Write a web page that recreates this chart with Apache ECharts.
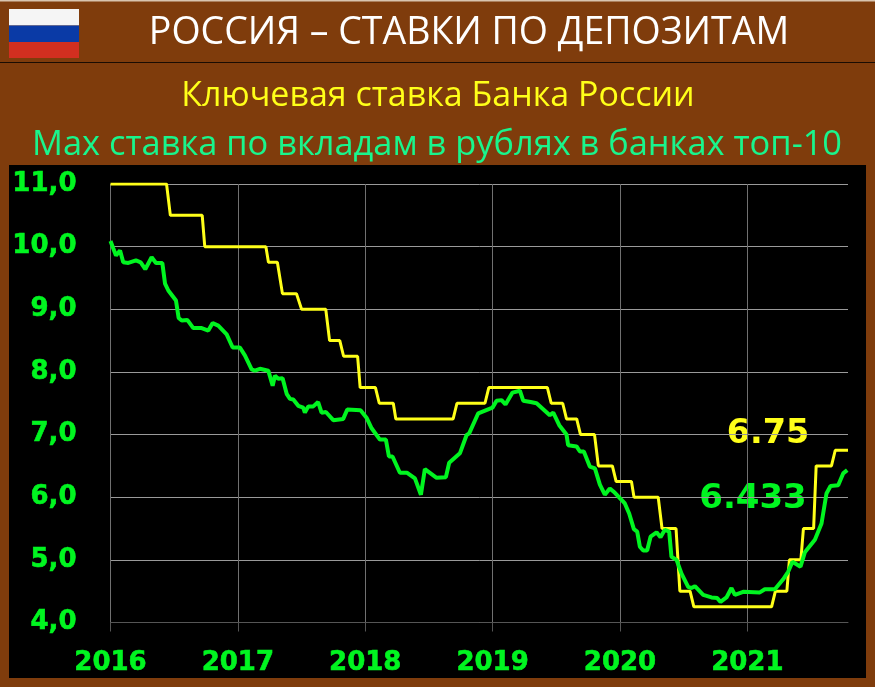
<!DOCTYPE html>
<html><head><meta charset="utf-8">
<style>html,body{margin:0;padding:0;background:#7f3c0c}#c{width:875px;height:687px}</style>
<script src="https://cdn.jsdelivr.net/npm/echarts@6/dist/echarts.min.js"></script>
</head><body><div id="c"></div>
<script>
const yearTicks = [2016, 2017, 2018, 2019, 2020, 2021];
const keyRateDates = [2016.00,2016.44,2016.47,2016.72,2016.74,2017.22,2017.24,2017.31,2017.35,2017.46,2017.50,2017.69,2017.72,2017.80,2017.83,2017.94,2017.96,2018.08,2018.11,2018.22,2018.24,2018.69,2018.72,2018.94,2018.97,2019.43,2019.46,2019.55,2019.58,2019.66,2019.69,2019.80,2019.83,2019.94,2019.97,2020.09,2020.11,2020.30,2020.33,2020.44,2020.47,2020.55,2020.58,2021.19,2021.22,2021.31,2021.33,2021.42,2021.44,2021.52,2021.54,2021.66,2021.69,2021.79];
const keyRateValues = [11,11,10.5,10.5,10,10,9.75,9.75,9.25,9.25,9,9,8.5,8.5,8.25,8.25,7.75,7.75,7.5,7.5,7.25,7.25,7.5,7.5,7.75,7.75,7.5,7.5,7.25,7.25,7,7,6.5,6.5,6.25,6.25,6,6,5.5,5.5,4.5,4.5,4.25,4.25,4.5,4.5,5,5,5.5,5.5,6.5,6.5,6.75,6.75];
const depositDates = [2016.000,2016.022,2016.043,2016.075,2016.100,2016.140,2016.200,2016.237,2016.273,2016.323,2016.357,2016.407,2016.428,2016.454,2016.514,2016.535,2016.559,2016.603,2016.650,2016.716,2016.768,2016.802,2016.846,2016.912,2016.959,2017.016,2017.056,2017.108,2017.134,2017.173,2017.239,2017.273,2017.291,2017.317,2017.351,2017.383,2017.409,2017.435,2017.474,2017.513,2017.526,2017.553,2017.592,2017.630,2017.657,2017.691,2017.749,2017.827,2017.859,2017.963,2018.010,2018.050,2018.115,2018.162,2018.186,2018.214,2018.272,2018.329,2018.390,2018.437,2018.468,2018.560,2018.633,2018.659,2018.743,2018.795,2018.816,2018.887,2018.999,2019.031,2019.070,2019.101,2019.156,2019.214,2019.240,2019.298,2019.345,2019.449,2019.476,2019.523,2019.580,2019.593,2019.659,2019.685,2019.716,2019.763,2019.803,2019.842,2019.881,2019.920,2019.960,2020.038,2020.072,2020.109,2020.135,2020.156,2020.182,2020.213,2020.240,2020.287,2020.318,2020.352,2020.386,2020.404,2020.444,2020.483,2020.535,2020.561,2020.588,2020.653,2020.718,2020.763,2020.789,2020.836,2020.875,2020.902,2020.967,2021.098,2021.137,2021.216,2021.281,2021.320,2021.354,2021.417,2021.451,2021.530,2021.582,2021.621,2021.653,2021.713,2021.752,2021.784];
const depositValues = [10.09,9.97,9.86,9.94,9.75,9.74,9.78,9.75,9.64,9.83,9.74,9.74,9.41,9.30,9.14,8.86,8.82,8.83,8.70,8.70,8.66,8.78,8.74,8.60,8.39,8.39,8.26,8.04,8.02,8.05,8.02,7.78,7.94,7.89,7.90,7.65,7.57,7.56,7.46,7.43,7.35,7.45,7.45,7.52,7.35,7.36,7.23,7.25,7.40,7.39,7.27,7.10,6.92,6.92,6.65,6.65,6.39,6.39,6.30,6.04,6.45,6.31,6.32,6.55,6.70,6.99,7.02,7.34,7.43,7.54,7.55,7.48,7.67,7.70,7.54,7.52,7.50,7.31,7.35,7.15,7.00,6.83,6.81,6.73,6.73,6.49,6.46,6.20,6.04,6.14,6.07,5.90,5.74,5.49,5.45,5.21,5.15,5.15,5.37,5.44,5.36,5.48,5.45,5.05,5.00,4.78,4.57,4.55,4.58,4.44,4.40,4.39,4.33,4.40,4.55,4.44,4.49,4.48,4.53,4.53,4.69,4.81,4.97,4.89,5.12,5.32,5.58,6.06,6.18,6.19,6.38,6.433];
const mainTitle = 'РОССИЯ – СТАВКИ ПО ДЕПОЗИТАМ';
const keyRateName = 'Ключевая ставка Банка России';
const depositName = 'Max ставка по вкладам в рублях в банках топ-10';
const lastKeyRate = '6.75';
const lastDeposit = '6.433';

const BROWN = '#7f3c0c', GREEN = '#00f520', YELLOW = '#ffff19', MINT = '#19f58c';
const bodyFont = '"Open Sans", sans-serif', numFont = '"DejaVu Sans", sans-serif';
const zip = (a, b) => a.map((v, i) => [v, b[i]]);
const rect = (x, y, width, height, fill) => ({type: 'rect', silent: true, shape: {x, y, width, height}, style: {fill}});
const text = (x, y, t, fill, font, align) => ({type: 'text', silent: true, x, y, style: {text: t, fill, font, textAlign: align, textVerticalAlign: 'middle'}});

const chart = echarts.init(document.getElementById('c'), null, {renderer: 'canvas'});
chart.setOption({
  animation: false,
  backgroundColor: BROWN,
  grid: {left: 110.5, right: 27, top: 184, bottom: 64.5, containLabel: false},
  xAxis: {
    type: 'value', min: 2016, max: 2021.79, interval: 1,
    axisLine: {show: true, lineStyle: {color: '#555', width: 1}},
    axisTick: {show: true, length: 9, customValues: yearTicks, lineStyle: {color: '#555', width: 1}},
    splitLine: {show: true, lineStyle: {color: '#707070', width: 1}},
    axisLabel: {color: GREEN, fontFamily: numFont, fontWeight: 'bold', fontSize: 26, margin: 28, customValues: yearTicks,
      textBorderColor: GREEN, textBorderWidth: 0.6,
      formatter: v => String(v)}
  },
  yAxis: {
    type: 'value', min: 4, max: 11, interval: 1,
    axisLine: {show: false}, axisTick: {show: false},
    splitLine: {show: true, lineStyle: {color: '#9a9a9a', width: 1}},
    axisLabel: {color: GREEN, fontFamily: numFont, fontWeight: 'bold', fontSize: 26, margin: 34, padding: [8, 0, 0, 0],
      textBorderColor: GREEN, textBorderWidth: 0.6,
      formatter: v => v.toFixed(1).replace('.', ',')}
  },
  series: [
    {name: keyRateName, type: 'line', data: zip(keyRateDates, keyRateValues), showSymbol: false, lineStyle: {color: YELLOW, width: 3}, z: 3},
    {name: depositName, type: 'line', data: zip(depositDates, depositValues), showSymbol: false, lineStyle: {color: GREEN, width: 4}, z: 4}
  ],
  graphic: {elements: [
    Object.assign(rect(9, 165, 857, 513, '#000'), {z: -100, zlevel: 0}),
    rect(0, 0, 875, 1.5, '#d9c4ae'),
    rect(0, 62, 875, 1, '#1a0c02'),
    rect(9, 9, 70, 16.5, '#f5f5f5'),
    rect(9, 25.5, 70, 16.5, '#0a3aa6'),
    rect(9, 42, 70, 16, '#d22f20'),
    text(469, 33, mainTitle, '#ffffff', '37.5px ' + bodyFont, 'center'),
    text(438, 96, keyRateName, YELLOW, '34px ' + bodyFont, 'center'),
    text(437, 145, depositName, MINT, '34.4px ' + bodyFont, 'center'),
    text(768, 434, lastKeyRate, YELLOW, 'bold 33.5px ' + numFont, 'center'),
    text(753, 499, lastDeposit, GREEN, 'bold 34px ' + numFont, 'center')
  ]}
});
</script></body></html>
